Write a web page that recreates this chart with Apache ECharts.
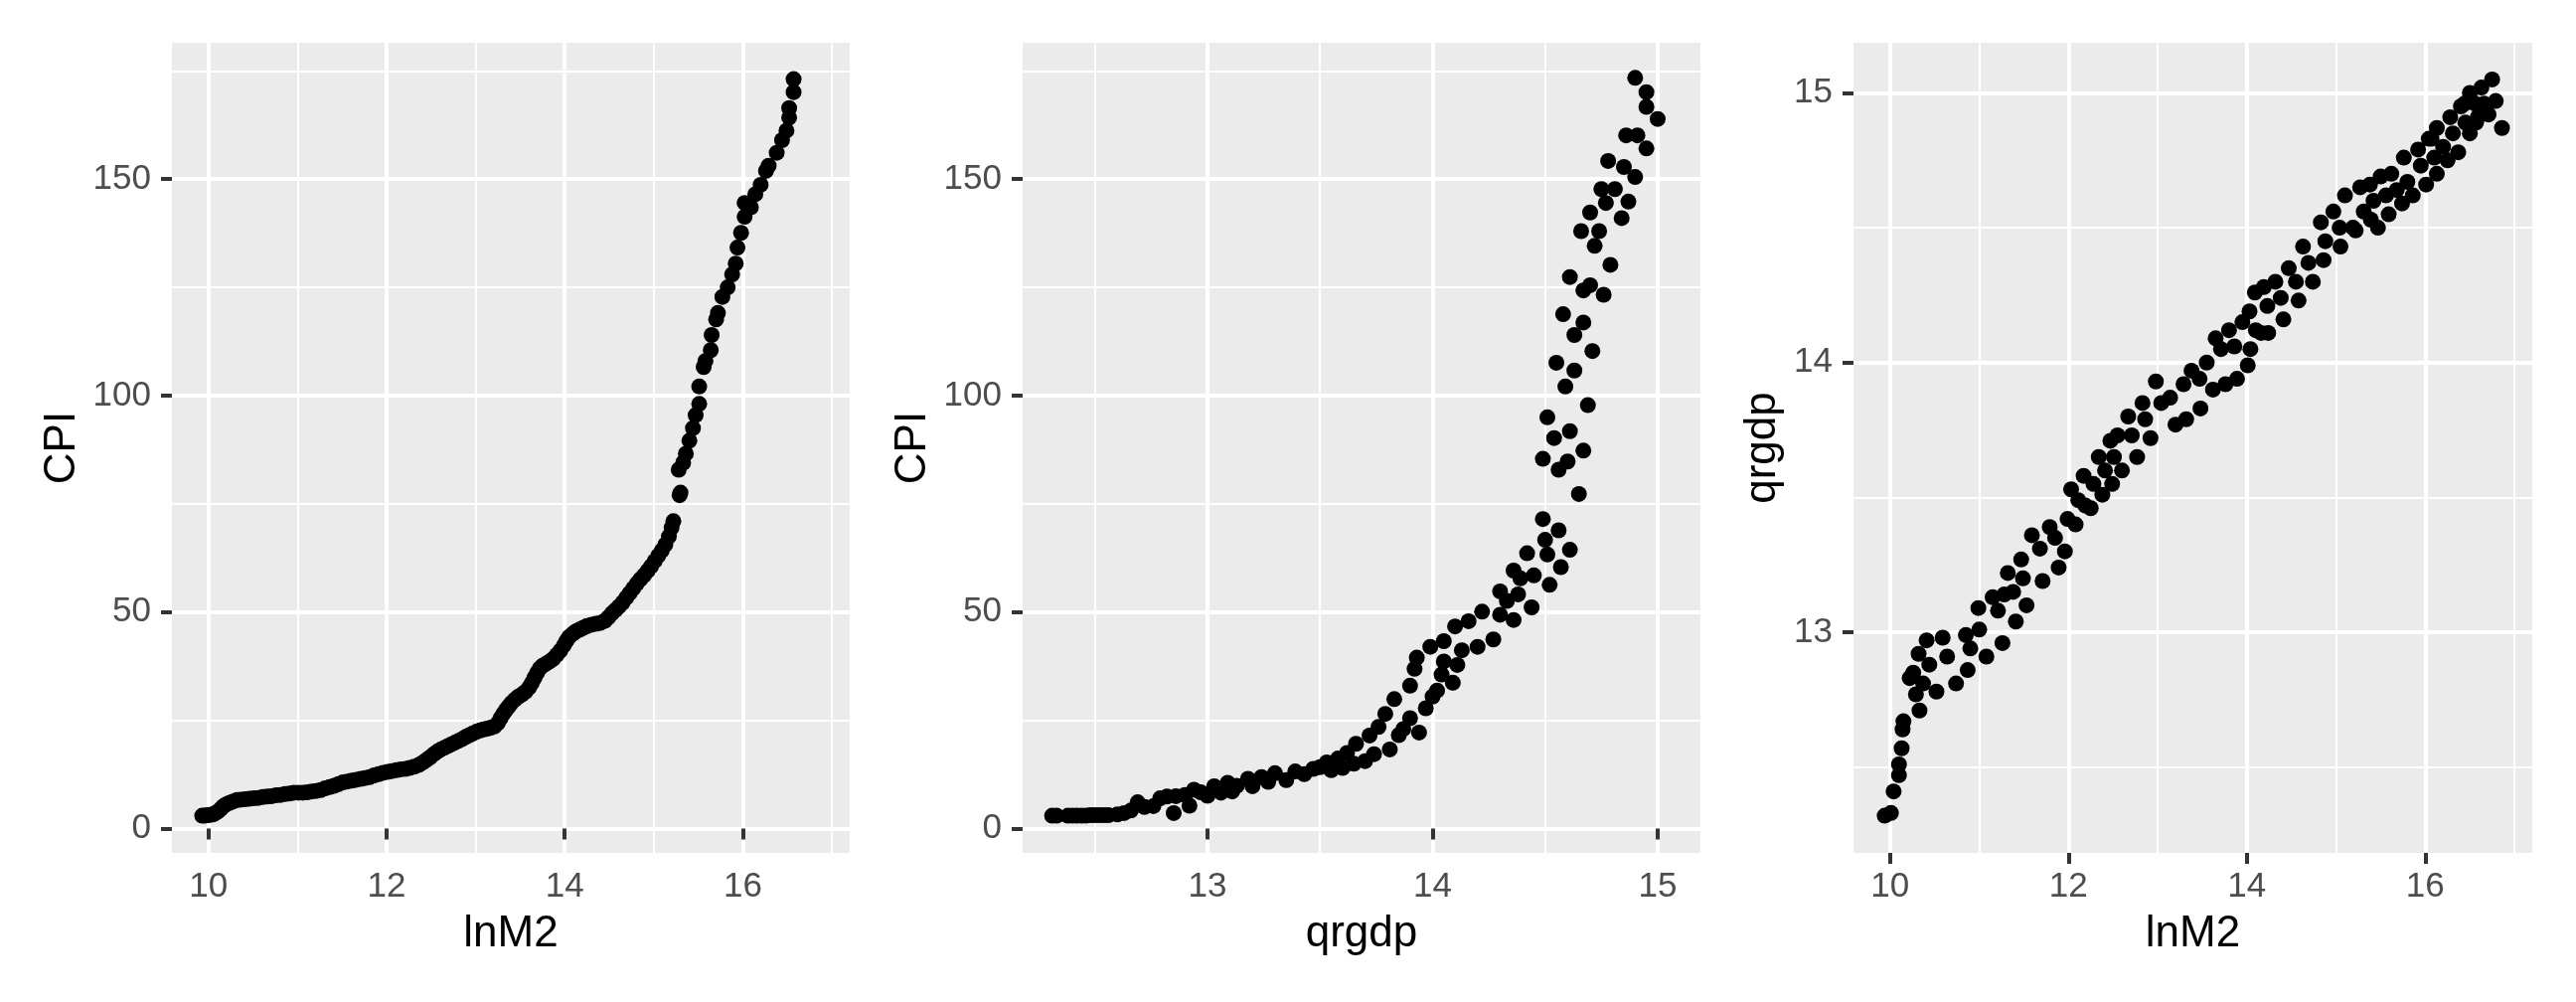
<!DOCTYPE html>
<html>
<head>
<meta charset="utf-8">
<title>CPI / lnM2 / qrgdp</title>
<script src="https://cdn.jsdelivr.net/npm/echarts@6/dist/echarts.min.js"></script>
<style>
	html, body {margin: 0;padding: 0;background: #fff;}
	#main {width: 2592px;height: 1008px;}
</style>
</head>
<body>
<div id="main"></div>
<script>
	// panel 1: CPI against lnM2
	var p1_lnM2 = [9.93, 9.96, 9.99, 10.02, 10.05, 10.08, 10.11, 10.14, 10.17, 10.20, 10.24, 10.28, 10.32, 10.36, 10.41, 10.46, 10.51, 10.56, 10.61, 10.66,
		10.71, 10.76, 10.81, 10.86, 10.91, 10.96, 11.01, 11.06, 11.11, 11.16, 11.21, 11.26, 11.31, 11.36, 11.41, 11.46, 11.51, 11.56, 11.61, 11.66,
		11.71, 11.76, 11.81, 11.86, 11.91, 11.96, 12.01, 12.06, 12.11, 12.16, 12.21, 12.26, 12.31, 12.36, 12.41, 12.45, 12.49, 12.53, 12.57, 12.61,
		12.65, 12.69, 12.73, 12.77, 12.81, 12.85, 12.89, 12.93, 12.97, 13.01, 13.05, 13.09, 13.13, 13.17, 13.21, 13.25, 13.28, 13.31, 13.34, 13.37,
		13.40, 13.44, 13.48, 13.52, 13.56, 13.60, 13.63, 13.66, 13.69, 13.72, 13.75, 13.79, 13.83, 13.87, 13.91, 13.95, 13.99, 14.02, 14.05, 14.09,
		14.13, 14.17, 14.21, 14.25, 14.30, 14.35, 14.40, 14.45, 14.49, 14.53, 14.57, 14.61, 14.65, 14.69, 14.73, 14.77, 14.81, 14.85, 14.89, 14.93,
		14.97, 15.01, 15.05, 15.09, 15.13, 15.17, 15.20, 15.22, 15.29, 15.30, 15.28, 15.33, 15.36, 15.40, 15.44, 15.47, 15.51, 15.51, 15.56, 15.58,
		15.64, 15.65, 15.70, 15.72, 15.77, 15.83, 15.88, 15.92, 15.94, 15.98, 16.02, 16.02, 16.09, 16.14, 16.20, 16.26, 16.29, 16.38, 16.44, 16.49,
		16.52, 16.52, 16.57, 16.57];
	var p1_cpi = [3.0, 3.0, 3.1, 3.2, 3.3, 3.6, 4.0, 4.6, 5.2, 5.6, 6.0, 6.3, 6.6, 6.7, 6.8, 6.9, 7.0, 7.1, 7.3, 7.4,
		7.5, 7.7, 7.8, 8.0, 8.1, 8.3, 8.3, 8.3, 8.4, 8.6, 8.7, 8.9, 9.3, 9.6, 9.9, 10.3, 10.7, 10.9, 11.1, 11.3,
		11.5, 11.7, 11.9, 12.3, 12.6, 12.9, 13.1, 13.3, 13.5, 13.7, 13.8, 14.0, 14.3, 14.7, 15.3, 15.9, 16.5, 17.2, 17.8, 18.3,
		18.7, 19.1, 19.5, 19.9, 20.3, 20.7, 21.2, 21.6, 22.0, 22.4, 22.7, 22.9, 23.1, 23.3, 23.6, 24.4, 25.5, 26.5, 27.4, 28.2,
		29.0, 29.8, 30.5, 31.0, 31.6, 32.6, 33.6, 34.8, 36.0, 37.0, 37.6, 38.1, 38.6, 39.2, 40.1, 41.1, 42.3, 43.4, 44.3, 45.0,
		45.6, 46.0, 46.4, 46.8, 47.1, 47.3, 47.5, 48.0, 48.8, 49.7, 50.5, 51.3, 52.2, 53.3, 54.4, 55.5, 56.6, 57.6, 58.5, 59.5,
		60.6, 61.8, 63.0, 64.2, 65.6, 67.5, 69.5, 71.0, 77.0, 77.6, 82.9, 84.5, 86.6, 89.6, 92.5, 95.5, 98.1, 102.1, 106.6, 108.0,
		110.5, 114.0, 117.6, 119.1, 122.8, 125.0, 128.0, 130.5, 134.2, 137.6, 141.3, 144.5, 143.5, 146.5, 148.7, 151.9, 153.1, 156.1, 159.0, 161.2,
		164.2, 166.4, 170.1, 173.1];

	// panel 2: CPI against qrgdp
	var p2_qrgdp = [12.31, 12.33, 12.38, 12.40, 12.42, 12.44, 12.46, 12.48, 12.50, 12.52, 12.54, 12.56, 12.60, 12.63, 12.66, 12.69, 12.72, 12.76, 12.79, 12.82,
		12.85, 12.86, 12.90, 12.92, 12.94, 12.97, 13.00, 13.03, 13.06, 13.09, 13.11, 13.13, 13.18, 13.20, 13.24, 13.27, 13.30, 13.35, 13.39, 13.43,
		13.47, 13.50, 13.53, 13.55, 13.58, 13.60, 13.62, 13.65, 13.66, 13.70, 13.72, 13.74, 13.76, 13.79, 13.81, 13.83, 13.85, 13.87, 13.90, 13.90,
		13.92, 13.93, 13.94, 13.97, 13.99, 14.00, 14.02, 14.04, 14.05, 14.05, 14.09, 14.10, 14.11, 14.13, 14.16, 14.20, 14.22, 14.27, 14.30, 14.30,
		14.33, 14.36, 14.38, 14.36, 14.39, 14.42, 14.44, 14.45, 14.49, 14.50, 14.51, 14.52, 14.49, 14.51, 14.54, 14.55, 14.56, 14.56, 14.57, 14.58,
		14.59, 14.60, 14.61, 14.61, 14.61, 14.63, 14.63, 14.65, 14.66, 14.67, 14.67, 14.67, 14.69, 14.70, 14.70, 14.71, 14.72, 14.74, 14.75, 14.76,
		14.77, 14.79, 14.78, 14.81, 14.84, 14.85, 14.86, 14.87, 14.90, 14.90, 14.91, 14.95, 14.95, 14.95, 15.00];
	var p2_cpi = [3.0, 3.0, 3.0, 3.0, 3.0, 3.0, 3.0, 3.1, 3.1, 3.1, 3.1, 3.1, 3.3, 3.6, 4.2, 6.1, 5.0, 5.2, 7.0, 7.4,
		3.6, 7.5, 7.8, 5.3, 9.0, 8.4, 7.6, 9.8, 8.3, 10.6, 8.6, 9.9, 11.5, 9.8, 11.9, 10.8, 12.8, 11.2, 13.2, 12.6,
		13.8, 14.2, 15.3, 13.5, 16.2, 14.0, 17.5, 15.0, 19.6, 15.6, 21.5, 17.2, 23.5, 26.5, 18.3, 29.9, 21.6, 23.0, 33.0, 25.5,
		36.9, 39.5, 22.2, 27.8, 42.0, 30.5, 31.9, 35.6, 38.6, 43.3, 33.7, 46.7, 37.8, 41.2, 47.9, 42.0, 50.1, 43.7, 49.4, 54.8,
		52.6, 48.2, 54.1, 59.6, 57.8, 63.6, 51.1, 58.5, 71.5, 66.7, 63.3, 56.3, 85.4, 95.0, 90.2, 107.6, 82.9, 68.9, 60.4, 118.8,
		102.1, 84.8, 127.4, 91.8, 64.4, 105.8, 114.0, 77.3, 138.0, 116.9, 87.3, 124.3, 97.8, 125.5, 142.3, 110.3, 134.6, 138.0, 147.7, 123.3,
		144.5, 130.2, 154.2, 147.7, 141.0, 152.8, 160.1, 144.8, 150.5, 173.4, 160.1, 157.1, 170.1, 166.7, 163.9];

	// panel 3: qrgdp against lnM2
	var p3_lnM2 = [9.94, 10.01, 10.04, 10.10, 10.10, 10.13, 10.14, 10.15, 10.22, 10.26, 10.29, 10.33, 10.32, 10.37, 10.41, 10.44, 10.52, 10.59, 10.64, 10.74,
		10.85, 10.87, 10.90, 10.99, 11.00, 11.08, 11.15, 11.21, 11.26, 11.32, 11.28, 11.41, 11.38, 11.49, 11.53, 11.47, 11.59, 11.68, 11.71, 11.79,
		11.85, 11.89, 11.96, 11.99, 12.08, 12.03, 12.11, 12.19, 12.25, 12.17, 12.28, 12.38, 12.34, 12.41, 12.47, 12.51, 12.55, 12.49, 12.60, 12.67,
		12.71, 12.77, 12.83, 12.86, 12.92, 12.98, 13.04, 13.14, 13.20, 13.29, 13.32, 13.38, 13.47, 13.48, 13.55, 13.62, 13.65, 13.71, 13.76, 13.80,
		13.86, 13.89, 13.95, 14.01, 14.03, 14.04, 14.09, 14.10, 14.16, 14.19, 14.23, 14.24, 14.32, 14.38, 14.41, 14.47, 14.55, 14.58, 14.63, 14.69,
		14.74, 14.83, 14.86, 14.88, 14.97, 15.04, 15.05, 15.10, 15.19, 15.22, 15.27, 15.31, 15.38, 15.39, 15.42, 15.47, 15.50, 15.56, 15.59, 15.62,
		15.68, 15.74, 15.76, 15.80, 15.86, 15.92, 15.95, 16.01, 16.04, 16.10, 16.13, 16.13, 16.20, 16.25, 16.28, 16.31, 16.37, 16.40, 16.45, 16.50,
		16.50, 16.56, 16.59, 16.63, 16.66, 16.71, 16.75, 16.79, 16.86, 16.57, 16.44, 16.07];
	var p3_qrgdp = [12.32, 12.33, 12.41, 12.47, 12.51, 12.57, 12.64, 12.67, 12.83, 12.85, 12.77, 12.71, 12.92, 12.81, 12.97, 12.88, 12.78, 12.98, 12.91, 12.81,
		12.99, 12.86, 12.94, 13.09, 13.01, 12.91, 13.13, 13.08, 12.96, 13.22, 13.14, 13.04, 13.15, 13.20, 13.10, 13.27, 13.36, 13.31, 13.19, 13.39,
		13.35, 13.24, 13.30, 13.42, 13.40, 13.53, 13.49, 13.47, 13.46, 13.58, 13.55, 13.51, 13.65, 13.60, 13.71, 13.65, 13.73, 13.55, 13.60, 13.80,
		13.73, 13.65, 13.85, 13.79, 13.72, 13.93, 13.85, 13.87, 13.77, 13.92, 13.79, 13.97, 13.94, 13.83, 14.00, 13.90, 14.09, 14.05, 13.92, 14.12,
		14.06, 13.94, 14.15, 13.99, 14.19, 14.05, 14.26, 14.12, 14.11, 14.28, 14.21, 14.11, 14.30, 14.24, 14.16, 14.35, 14.30, 14.23, 14.43, 14.37,
		14.30, 14.52, 14.38, 14.45, 14.56, 14.50, 14.43, 14.62, 14.50, 14.49, 14.65, 14.56, 14.66, 14.53, 14.60, 14.50, 14.69, 14.62, 14.55, 14.70,
		14.64, 14.59, 14.76, 14.67, 14.62, 14.79, 14.73, 14.66, 14.83, 14.76, 14.87, 14.70, 14.80, 14.75, 14.91, 14.85, 14.78, 14.95, 14.89, 15.00,
		14.85, 14.96, 14.91, 15.02, 14.96, 14.92, 15.05, 14.97, 14.87, 14.89, 14.96, 14.83];

	var xNames = ['lnM2', 'qrgdp', 'lnM2'];
	var yNames = ['CPI', 'CPI', 'qrgdp'];
	var xTickValues = [[10, 12, 14, 16], [13, 14, 15], [10, 12, 14, 16]];
	var yTickValues = [[0, 50, 100, 150], [0, 50, 100, 150], [13, 14, 15]];

	var FONT = '"Liberation Sans", Arial, sans-serif';
	// panel boxes measured on the picture
	var grids = [
		{left: 173, top: 43, width: 682, height: 815},
		{left: 1029, top: 43, width: 682, height: 815},
		{left: 1865, top: 43, width: 683, height: 815}
	];
	var xRange = [[9.59, 17.2, 5], [12.179, 15.19, 3], [9.59, 17.2, 5]];
	var yRange = [[-5.6, 181.5, 4], [-5.6, 181.5, 4], [12.182, 15.186, 3]];
	var yNameGap = [88, 88, 69];

	function axis(i, dir) {
		var r = dir == 'x' ? xRange[i] : yRange[i];
		var ticks = dir == 'x' ? xTickValues[i] : yTickValues[i];
		return {
			type: 'value', gridIndex: i,
			min: r[0], max: r[1], splitNumber: r[2],
			name: dir == 'x' ? xNames[i] : yNames[i],
			nameLocation: 'middle',
			nameGap: dir == 'x' ? 60 : yNameGap[i],
			nameTextStyle: {color: '#000', fontSize: 44, fontFamily: FONT},
			axisLine: {show: false},
			axisTick: {show: true, length: 11, customValues: ticks, lineStyle: {color: '#333333', width: 4}},
			axisLabel: {show: true, customValues: ticks, color: '#4D4D4D', fontSize: 35, fontFamily: FONT, margin: dir == 'x' ? 17 : 21},
			splitLine: {show: true, lineStyle: {color: '#FFFFFF', width: 4}},
			minorTick: {show: false, splitNumber: 2},
			minorSplitLine: {show: true, lineStyle: {color: '#FFFFFF', width: 2}}
		};
	}

	function pairs(xs, ys) {
		return xs.map(function(v, k) { return [v, ys[k]]; });
	}

	var myChart = echarts.init(document.getElementById('main'), null, {renderer: 'canvas'});
	var option = {
		animation: false,
		backgroundColor: '#FFFFFF',
		grid: grids.map(function(g) {
			return {left: g.left, top: g.top, width: g.width, height: g.height, show: true,
				backgroundColor: '#EBEBEB', borderWidth: 0, containLabel: false, outerBoundsMode: 'none'};
		}),
		xAxis: [axis(0, 'x'), axis(1, 'x'), axis(2, 'x')],
		yAxis: [axis(0, 'y'), axis(1, 'y'), axis(2, 'y')],
		series: [
			{type: 'scatter', xAxisIndex: 0, yAxisIndex: 0, data: pairs(p1_lnM2, p1_cpi)},
			{type: 'scatter', xAxisIndex: 1, yAxisIndex: 1, data: pairs(p2_qrgdp, p2_cpi)},
			{type: 'scatter', xAxisIndex: 2, yAxisIndex: 2, data: pairs(p3_lnM2, p3_qrgdp)}
		].map(function(s) {
			s.symbol = 'circle';
			s.symbolSize = 16;
			s.itemStyle = {color: '#000000', opacity: 1};
			s.emphasis = {disabled: true};
			return s;
		})
	};
	myChart.setOption(option);
</script>
</body>
</html>
